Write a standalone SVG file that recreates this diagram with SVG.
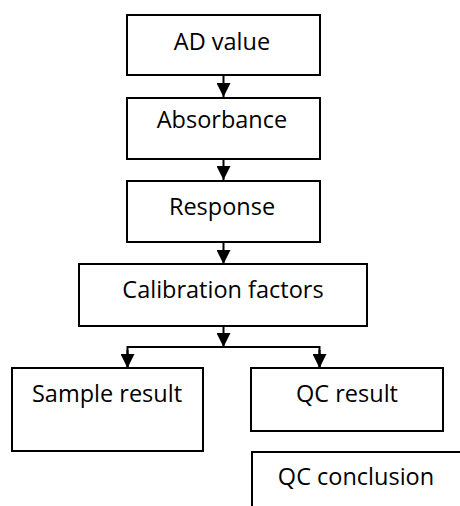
<svg xmlns="http://www.w3.org/2000/svg" width="460" height="506" viewBox="0 0 460 506">
<defs>
<style>
.box{fill:#fff;stroke:#000;stroke-width:2}
.lbl{font-family:"Open Sans","Liberation Sans",sans-serif;font-size:23.5px;fill:#000;text-anchor:middle}
.conn{fill:none;stroke:#000;stroke-width:2}
</style>
<marker id="ah" markerWidth="14" markerHeight="14" viewBox="0 0 14 14" refX="14" refY="7" orient="auto" markerUnits="userSpaceOnUse">
<path d="M0,0 L14,7 L0,14 Z" fill="#000"/>
</marker>
</defs>
<rect width="460" height="506" fill="#fff"/>
<g id="connectors">
<line class="conn" x1="223.5" y1="75" x2="223.5" y2="97" marker-end="url(#ah)"/>
<line class="conn" x1="223.5" y1="159" x2="223.5" y2="180" marker-end="url(#ah)"/>
<line class="conn" x1="223.5" y1="242" x2="223.5" y2="264" marker-end="url(#ah)"/>
<line class="conn" x1="223.5" y1="326" x2="223.5" y2="347" marker-end="url(#ah)"/>
<polyline class="conn" points="127.5,368 127.5,347 319.5,347 319.5,368"/>
<line class="conn" x1="127.5" y1="350" x2="127.5" y2="368" marker-end="url(#ah)"/>
<line class="conn" x1="319.5" y1="350" x2="319.5" y2="368" marker-end="url(#ah)"/>
</g>
<g id="ad-value">
<rect class="box" x="127" y="15" width="193" height="60"/>
<text class="lbl" x="222" y="49.5">AD value</text>
</g>
<g id="absorbance">
<rect class="box" x="127" y="98" width="193" height="61"/>
<text class="lbl" x="222" y="128">Absorbance</text>
</g>
<g id="response">
<rect class="box" x="127" y="181" width="193" height="61"/>
<text class="lbl" x="222" y="215">Response</text>
</g>
<g id="calibration-factors">
<rect class="box" x="79" y="264" width="288" height="62"/>
<text class="lbl" x="223" y="298">Calibration factors</text>
</g>
<g id="sample-result">
<rect class="box" x="12" y="368" width="191" height="83"/>
<text class="lbl" x="107" y="402">Sample result</text>
</g>
<g id="qc-result">
<rect class="box" x="251" y="368" width="192" height="63"/>
<text class="lbl" x="347" y="402">QC result</text>
</g>
<g id="qc-conclusion">
<rect class="box" x="252" y="452" width="215" height="70"/>
<text class="lbl" x="356" y="485">QC conclusion</text>
</g>
</svg>
